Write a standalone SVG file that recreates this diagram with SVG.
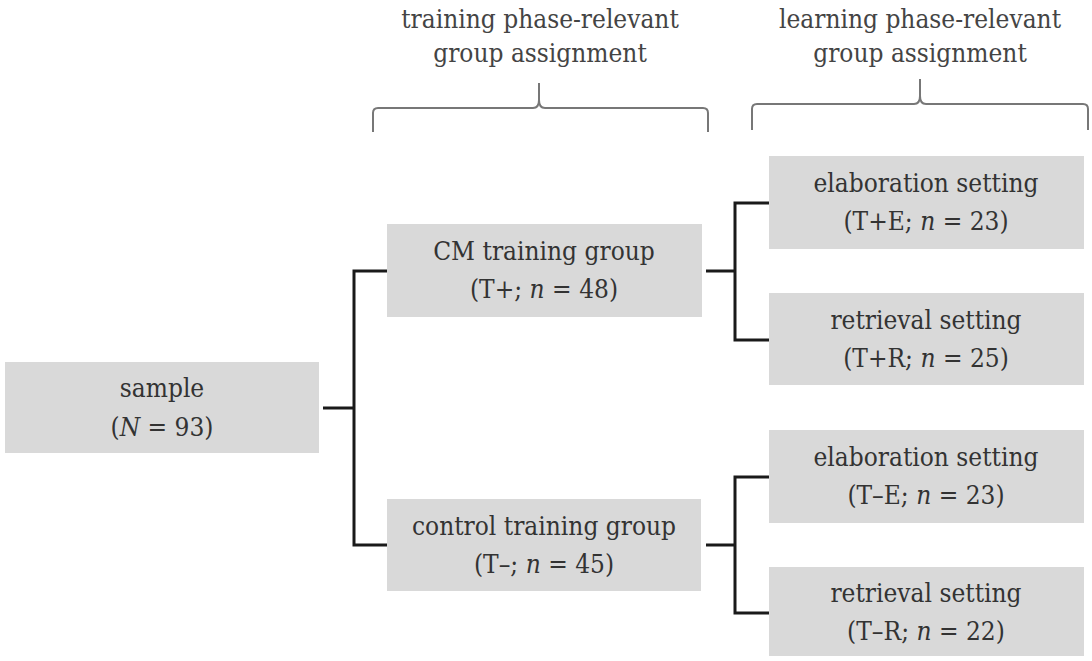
<svg xmlns="http://www.w3.org/2000/svg" width="1092" height="661" viewBox="0 0 1092 661">
<style>
.box{fill:#d9d9d9;}
text{font-family:"DejaVu Serif Condensed", "DejaVu Serif", "Liberation Serif", serif;font-stretch:condensed;}
.t{font-size:26px;fill:#333;text-anchor:middle;}
.h{font-size:26px;fill:#444;text-anchor:middle;}
.c{fill:none;stroke:#1a1a1a;stroke-width:3;}
.b{fill:none;stroke:#777;stroke-width:2;}
</style>
<rect width="1092" height="661" fill="#fff"/>
<g id="header-training">
<text class="h" x="540" y="28">training phase-relevant</text>
<text class="h" x="540" y="62">group assignment</text>
<path class="b" d="M373,132 V113 Q373,108 378,108 H533 Q539,108 539,100 V83 M539,100 Q539,108 545,108 H703 Q708,108 708,113 V132"/>
</g>
<g id="header-learning">
<text class="h" x="920" y="28">learning phase-relevant</text>
<text class="h" x="920" y="62">group assignment</text>
<path class="b" d="M752,130 V109 Q752,104 757,104 H914 Q920,104 920,96 V79 M920,96 Q920,104 926,104 H1083 Q1088,104 1088,109 V130"/>
</g>
<g id="connectors">
<path class="c" d="M323,408 H354 M387,271 H354 V545 H387"/>
<path class="c" d="M706,271 H735 M769,203 H735 V340 H769"/>
<path class="c" d="M706,545 H735 M769,477 H735 V613 H769"/>
</g>
<g id="sample">
<rect class="box" x="5" y="362" width="314" height="91"/>
<text class="t" x="162" y="397">sample</text>
<text class="t" x="162" y="436">(<tspan font-style="italic">N</tspan> = 93)</text>
</g>
<g id="cm-training">
<rect class="box" x="387" y="224" width="315" height="93"/>
<text class="t" x="544" y="260">CM training group</text>
<text class="t" x="544" y="298">(T+; <tspan font-style="italic">n</tspan> = 48)</text>
</g>
<g id="control-training">
<rect class="box" x="387" y="499" width="314" height="92"/>
<text class="t" x="544" y="535">control training group</text>
<text class="t" x="544" y="573">(T–; <tspan font-style="italic">n</tspan> = 45)</text>
</g>
<g id="tpe">
<rect class="box" x="769" y="156" width="315" height="93"/>
<text class="t" x="926" y="192">elaboration setting</text>
<text class="t" x="926" y="230">(T+E; <tspan font-style="italic">n</tspan> = 23)</text>
</g>
<g id="tpr">
<rect class="box" x="769" y="293" width="315" height="92"/>
<text class="t" x="926" y="329">retrieval setting</text>
<text class="t" x="926" y="367">(T+R; <tspan font-style="italic">n</tspan> = 25)</text>
</g>
<g id="tme">
<rect class="box" x="769" y="430" width="315" height="93"/>
<text class="t" x="926" y="466">elaboration setting</text>
<text class="t" x="926" y="504">(T–E; <tspan font-style="italic">n</tspan> = 23)</text>
</g>
<g id="tmr">
<rect class="box" x="769" y="567" width="315" height="89"/>
<text class="t" x="926" y="602">retrieval setting</text>
<text class="t" x="926" y="640">(T–R; <tspan font-style="italic">n</tspan> = 22)</text>
</g>
</svg>
